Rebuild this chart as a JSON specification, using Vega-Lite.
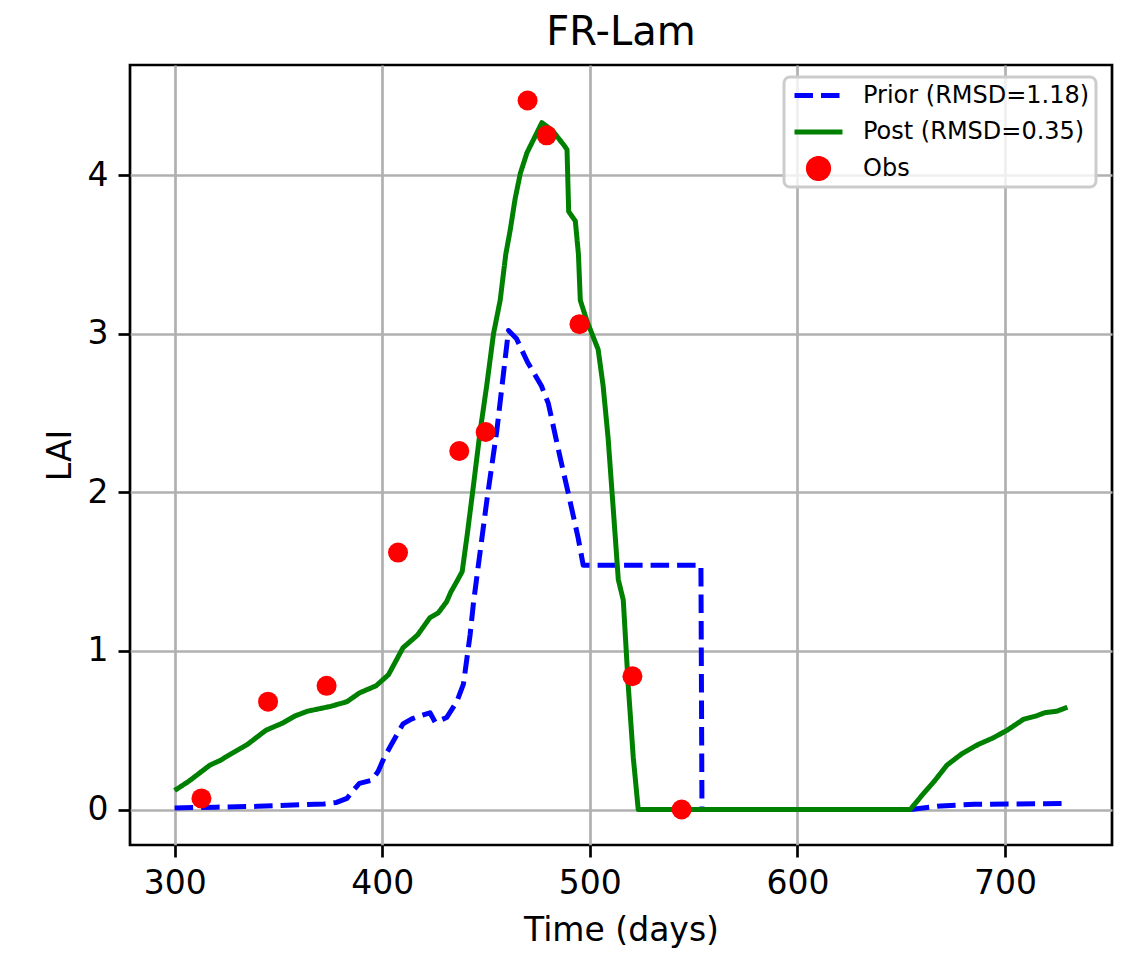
{
  "$schema": "https://vega.github.io/schema/vega-lite/v6.json",
  "width": 982,
  "height": 780,
  "autosize": "none",
  "padding": {"left": 130, "top": 65, "right": 18, "bottom": 108},
  "background": "white",
  "title": {"text": "FR-Lam", "fontSize": 40, "font": "DejaVu Sans", "fontWeight": "normal", "color": "black", "offset": 12, "anchor": "middle"},
  "config": {
    "view": {"stroke": "black", "strokeWidth": 2.7},
    "font": "DejaVu Sans",
    "axis": {
      "labelFont": "DejaVu Sans", "labelFontSize": 33, "labelColor": "black",
      "titleFont": "DejaVu Sans", "titleFontSize": 33, "titleFontWeight": "normal", "titleColor": "black",
      "tickColor": "black", "tickWidth": 2.7, "tickSize": 12,
      "gridColor": "#b0b0b0", "gridWidth": 2.7, "gridOpacity": 1,
      "domain": false, "labelPadding": 10
    }
  },
  "datasets": {
    "lines": [
      {"series": "Prior (RMSD=1.18)", "t": 300, "lai": 0.01},
      {"series": "Prior (RMSD=1.18)", "t": 320, "lai": 0.015},
      {"series": "Prior (RMSD=1.18)", "t": 340, "lai": 0.02},
      {"series": "Prior (RMSD=1.18)", "t": 360, "lai": 0.03},
      {"series": "Prior (RMSD=1.18)", "t": 372, "lai": 0.035},
      {"series": "Prior (RMSD=1.18)", "t": 378, "lai": 0.045},
      {"series": "Prior (RMSD=1.18)", "t": 383, "lai": 0.07},
      {"series": "Prior (RMSD=1.18)", "t": 386, "lai": 0.12},
      {"series": "Prior (RMSD=1.18)", "t": 389, "lai": 0.165},
      {"series": "Prior (RMSD=1.18)", "t": 395, "lai": 0.185},
      {"series": "Prior (RMSD=1.18)", "t": 398, "lai": 0.24},
      {"series": "Prior (RMSD=1.18)", "t": 401, "lai": 0.33},
      {"series": "Prior (RMSD=1.18)", "t": 404, "lai": 0.4},
      {"series": "Prior (RMSD=1.18)", "t": 407, "lai": 0.47},
      {"series": "Prior (RMSD=1.18)", "t": 410, "lai": 0.54},
      {"series": "Prior (RMSD=1.18)", "t": 414, "lai": 0.57},
      {"series": "Prior (RMSD=1.18)", "t": 418, "lai": 0.59},
      {"series": "Prior (RMSD=1.18)", "t": 423, "lai": 0.61},
      {"series": "Prior (RMSD=1.18)", "t": 425.5, "lai": 0.55},
      {"series": "Prior (RMSD=1.18)", "t": 431, "lai": 0.58},
      {"series": "Prior (RMSD=1.18)", "t": 435.9, "lai": 0.68},
      {"series": "Prior (RMSD=1.18)", "t": 439.1, "lai": 0.79},
      {"series": "Prior (RMSD=1.18)", "t": 442.3, "lai": 1.1},
      {"series": "Prior (RMSD=1.18)", "t": 444, "lai": 1.31},
      {"series": "Prior (RMSD=1.18)", "t": 447.2, "lai": 1.63},
      {"series": "Prior (RMSD=1.18)", "t": 450.4, "lai": 1.95},
      {"series": "Prior (RMSD=1.18)", "t": 455.2, "lai": 2.39},
      {"series": "Prior (RMSD=1.18)", "t": 460.8, "lai": 3.02},
      {"series": "Prior (RMSD=1.18)", "t": 464.6, "lai": 2.97},
      {"series": "Prior (RMSD=1.18)", "t": 470, "lai": 2.82},
      {"series": "Prior (RMSD=1.18)", "t": 476.7, "lai": 2.67},
      {"series": "Prior (RMSD=1.18)", "t": 480, "lai": 2.56},
      {"series": "Prior (RMSD=1.18)", "t": 485.5, "lai": 2.23},
      {"series": "Prior (RMSD=1.18)", "t": 489.5, "lai": 2.0},
      {"series": "Prior (RMSD=1.18)", "t": 494.4, "lai": 1.71},
      {"series": "Prior (RMSD=1.18)", "t": 496.8, "lai": 1.54},
      {"series": "Prior (RMSD=1.18)", "t": 553.5, "lai": 1.54},
      {"series": "Prior (RMSD=1.18)", "t": 554, "lai": 0.0},
      {"series": "Prior (RMSD=1.18)", "t": 600, "lai": 0.0},
      {"series": "Prior (RMSD=1.18)", "t": 654.3, "lai": 0.0},
      {"series": "Prior (RMSD=1.18)", "t": 669, "lai": 0.023},
      {"series": "Prior (RMSD=1.18)", "t": 685, "lai": 0.033},
      {"series": "Prior (RMSD=1.18)", "t": 701, "lai": 0.035},
      {"series": "Prior (RMSD=1.18)", "t": 729, "lai": 0.038},
      {"series": "Post (RMSD=0.35)", "t": 300, "lai": 0.12},
      {"series": "Post (RMSD=0.35)", "t": 307, "lai": 0.18},
      {"series": "Post (RMSD=0.35)", "t": 317, "lai": 0.28},
      {"series": "Post (RMSD=0.35)", "t": 322, "lai": 0.31},
      {"series": "Post (RMSD=0.35)", "t": 327, "lai": 0.35},
      {"series": "Post (RMSD=0.35)", "t": 335, "lai": 0.41},
      {"series": "Post (RMSD=0.35)", "t": 344, "lai": 0.5},
      {"series": "Post (RMSD=0.35)", "t": 352, "lai": 0.545},
      {"series": "Post (RMSD=0.35)", "t": 358, "lai": 0.59},
      {"series": "Post (RMSD=0.35)", "t": 364, "lai": 0.62},
      {"series": "Post (RMSD=0.35)", "t": 375, "lai": 0.65},
      {"series": "Post (RMSD=0.35)", "t": 383, "lai": 0.68},
      {"series": "Post (RMSD=0.35)", "t": 389, "lai": 0.735},
      {"series": "Post (RMSD=0.35)", "t": 397, "lai": 0.78},
      {"series": "Post (RMSD=0.35)", "t": 403, "lai": 0.85},
      {"series": "Post (RMSD=0.35)", "t": 410, "lai": 1.02},
      {"series": "Post (RMSD=0.35)", "t": 417, "lai": 1.1},
      {"series": "Post (RMSD=0.35)", "t": 423, "lai": 1.21},
      {"series": "Post (RMSD=0.35)", "t": 427, "lai": 1.24},
      {"series": "Post (RMSD=0.35)", "t": 431, "lai": 1.31},
      {"series": "Post (RMSD=0.35)", "t": 433, "lai": 1.37},
      {"series": "Post (RMSD=0.35)", "t": 436, "lai": 1.44},
      {"series": "Post (RMSD=0.35)", "t": 438.5, "lai": 1.5},
      {"series": "Post (RMSD=0.35)", "t": 441, "lai": 1.74},
      {"series": "Post (RMSD=0.35)", "t": 444, "lai": 2.05},
      {"series": "Post (RMSD=0.35)", "t": 447, "lai": 2.37},
      {"series": "Post (RMSD=0.35)", "t": 450.4, "lai": 2.68},
      {"series": "Post (RMSD=0.35)", "t": 453.6, "lai": 3.0},
      {"series": "Post (RMSD=0.35)", "t": 456.8, "lai": 3.21},
      {"series": "Post (RMSD=0.35)", "t": 459.5, "lai": 3.5},
      {"series": "Post (RMSD=0.35)", "t": 461.6, "lai": 3.65},
      {"series": "Post (RMSD=0.35)", "t": 464, "lai": 3.85},
      {"series": "Post (RMSD=0.35)", "t": 466.5, "lai": 4.01},
      {"series": "Post (RMSD=0.35)", "t": 469.7, "lai": 4.14},
      {"series": "Post (RMSD=0.35)", "t": 476.9, "lai": 4.33},
      {"series": "Post (RMSD=0.35)", "t": 482, "lai": 4.28},
      {"series": "Post (RMSD=0.35)", "t": 487.4, "lai": 4.19},
      {"series": "Post (RMSD=0.35)", "t": 489, "lai": 4.16},
      {"series": "Post (RMSD=0.35)", "t": 489.8, "lai": 3.77},
      {"series": "Post (RMSD=0.35)", "t": 493, "lai": 3.71},
      {"series": "Post (RMSD=0.35)", "t": 494.5, "lai": 3.5},
      {"series": "Post (RMSD=0.35)", "t": 495.4, "lai": 3.21},
      {"series": "Post (RMSD=0.35)", "t": 498.6, "lai": 3.08},
      {"series": "Post (RMSD=0.35)", "t": 504, "lai": 2.9},
      {"series": "Post (RMSD=0.35)", "t": 506.4, "lai": 2.67},
      {"series": "Post (RMSD=0.35)", "t": 508.8, "lai": 2.34},
      {"series": "Post (RMSD=0.35)", "t": 511.3, "lai": 1.89},
      {"series": "Post (RMSD=0.35)", "t": 513.7, "lai": 1.45},
      {"series": "Post (RMSD=0.35)", "t": 516.1, "lai": 1.32},
      {"series": "Post (RMSD=0.35)", "t": 518.5, "lai": 0.78},
      {"series": "Post (RMSD=0.35)", "t": 520.9, "lai": 0.33},
      {"series": "Post (RMSD=0.35)", "t": 523.3, "lai": 0.0},
      {"series": "Post (RMSD=0.35)", "t": 600, "lai": 0.0},
      {"series": "Post (RMSD=0.35)", "t": 654.3, "lai": 0.0},
      {"series": "Post (RMSD=0.35)", "t": 660, "lai": 0.09},
      {"series": "Post (RMSD=0.35)", "t": 666, "lai": 0.18},
      {"series": "Post (RMSD=0.35)", "t": 672, "lai": 0.28},
      {"series": "Post (RMSD=0.35)", "t": 679, "lai": 0.35},
      {"series": "Post (RMSD=0.35)", "t": 687, "lai": 0.41},
      {"series": "Post (RMSD=0.35)", "t": 694, "lai": 0.45},
      {"series": "Post (RMSD=0.35)", "t": 701, "lai": 0.5},
      {"series": "Post (RMSD=0.35)", "t": 709, "lai": 0.57},
      {"series": "Post (RMSD=0.35)", "t": 715, "lai": 0.59},
      {"series": "Post (RMSD=0.35)", "t": 719, "lai": 0.61},
      {"series": "Post (RMSD=0.35)", "t": 725, "lai": 0.62},
      {"series": "Post (RMSD=0.35)", "t": 730, "lai": 0.645}
    ],
    "obs": [
      {"series": "Obs", "t": 312.9, "lai": 0.07},
      {"series": "Obs", "t": 345, "lai": 0.68},
      {"series": "Obs", "t": 373.2, "lai": 0.78},
      {"series": "Obs", "t": 407.6, "lai": 1.62},
      {"series": "Obs", "t": 437.1, "lai": 2.26},
      {"series": "Obs", "t": 449.8, "lai": 2.38},
      {"series": "Obs", "t": 470, "lai": 4.47},
      {"series": "Obs", "t": 479.2, "lai": 4.25},
      {"series": "Obs", "t": 495, "lai": 3.06},
      {"series": "Obs", "t": 520.5, "lai": 0.84},
      {"series": "Obs", "t": 544.2, "lai": 0.0}
    ]
  },
  "layer": [
    {
      "data": {"name": "lines"},
      "mark": {"type": "line", "strokeWidth": 5, "strokeJoin": "round", "clip": true},
      "encoding": {
        "x": {"field": "t", "type": "quantitative", "scale": {"domain": [278.5, 751.5], "nice": false, "zero": false},
              "axis": {"title": "Time (days)", "values": [300, 400, 500, 600, 700], "format": "d", "titlePadding": 14}},
        "y": {"field": "lai", "type": "quantitative", "scale": {"domain": [-0.2235, 4.6935], "nice": false, "zero": false},
              "axis": {"title": "LAI", "values": [0, 1, 2, 3, 4], "format": "d", "titlePadding": 10}},
        "color": {"field": "series", "type": "nominal",
                  "scale": {"domain": ["Prior (RMSD=1.18)", "Post (RMSD=0.35)", "Obs"], "range": ["#0000ff", "#008000", "#ff0000"]},
                  "legend": {
                    "title": null, "orient": "none", "legendX": 654, "legendY": 12,
                    "labelFontSize": 24, "labelFont": "DejaVu Sans", "labelColor": "black", "labelLimit": 0,
                    "symbolSize": 2304, "symbolStrokeWidth": 5, "symbolType": "stroke",
                    "clipHeight": 25, "rowPadding": 11.5, "padding": 6, "labelOffset": 18, "symbolOffset": 2,
                    "strokeColor": "#cccccc", "fillColor": "rgba(255,255,255,0.8)", "cornerRadius": 6,
                    "encode": {
                      "legend": {"update": {"strokeWidth": {"value": 3}}},
                      "symbols": {"update": {
                        "shape": {"signal": "datum.value === 'Obs' ? 'M -0.42 0 A 0.42 0.42 0 1 0 0.42 0 A 0.42 0.42 0 1 0 -0.42 0 Z' : 'stroke'"},
                        "fill": {"signal": "datum.value === 'Obs' ? '#ff0000' : 'transparent'"},
                        "stroke": {"signal": "datum.value === 'Prior (RMSD=1.18)' ? '#0000ff' : (datum.value === 'Post (RMSD=0.35)' ? '#008000' : 'transparent')"},
                        "strokeDash": {"signal": "datum.value === 'Prior (RMSD=1.18)' ? [18.5, 8] : null"},
                        "strokeWidth": {"value": 5},
                        "size": {"value": 2304},
                        "opacity": {"value": 1}
                      }}
                    }
                  }},
        "strokeDash": {"field": "series", "type": "nominal",
                       "scale": {"domain": ["Prior (RMSD=1.18)", "Post (RMSD=0.35)"], "range": [[18.5, 8], [1, 0]]},
                       "legend": null}
      }
    },
    {
      "data": {"name": "obs"},
      "mark": {"type": "point", "filled": true, "shape": "circle", "size": 400, "opacity": 1},
      "encoding": {
        "x": {"field": "t", "type": "quantitative"},
        "y": {"field": "lai", "type": "quantitative"},
        "color": {"field": "series", "type": "nominal"}
      }
    }
  ]
}
